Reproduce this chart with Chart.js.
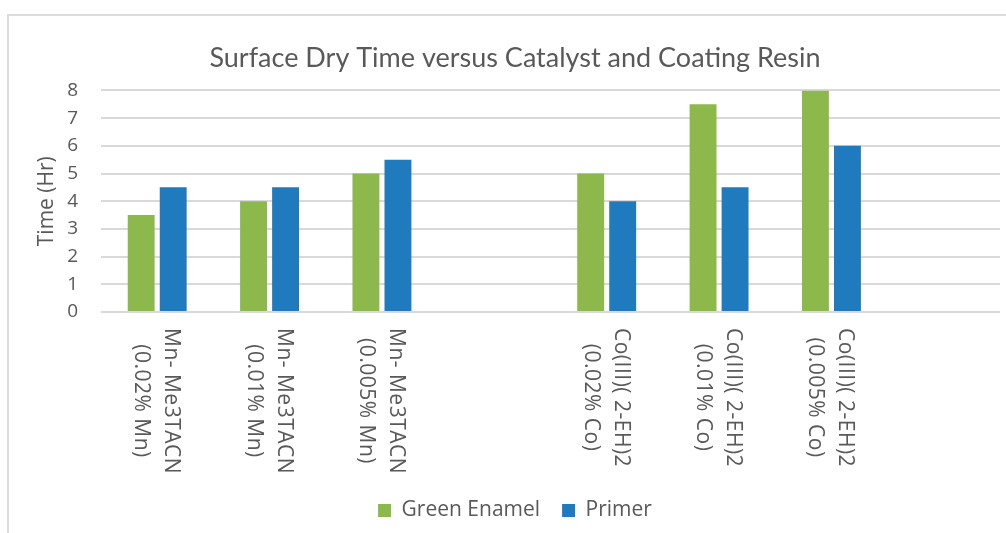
<!DOCTYPE html>
<html>
<head>
<meta charset="utf-8">
<script src="https://cdn.jsdelivr.net/npm/chart.js@4"></script>
<style>
  html, body { margin: 0; padding: 0; background: #fff; overflow: hidden; }
  #wrap { position: relative; width: 1006px; height: 533px; }
  #frame { position: absolute; left: 7px; top: 14px; width: 1010px; height: 540px;
           border: 2px solid #dcdcdc; box-sizing: border-box; }
  canvas { position: absolute; left: 0; top: 0; }
</style>
</head>
<body>
<div id="wrap">
  <div id="frame"></div>
  <canvas id="dryChart" width="1006" height="533"></canvas>
</div>
<script>
// categories (two lines each, empty slots are the gaps in the original)
const categories = [
    ['Mn- Me3TACN', '(0.02% Mn)'],
    ['Mn- Me3TACN', '(0.01% Mn)'],
    ['Mn- Me3TACN', '(0.005% Mn)'],
    '',
    ['Co(III)( 2-EH)2', '(0.02% Co)'],
    ['Co(III)( 2-EH)2', '(0.01% Co)'],
    ['Co(III)( 2-EH)2', '(0.005% Co)'],
    ''
];
const greenEnamel = [3.5, 4, 5, null, 5, 7.5, 8, null];
const primer = [4.5, 4.5, 5.5, null, 4, 4.5, 6, null];
const yTicks = [0, 1, 2, 3, 4, 5, 6, 7, 8];

const textColor = '#595959';
const gridColor = '#d9d9d9';

// x labels are rotated clockwise (top to bottom), so draw them by hand
const rotatedLabels = {
    id: 'rotatedLabels',
    afterDraw(chart) {
        const { ctx, scales: { x } } = chart;
        const top = 328;
        const lineGap = 30;
        ctx.save();
        ctx.font = '21px "Open Sans"';
        ctx.letterSpacing = '0.5px';
        ctx.fillStyle = textColor;
        ctx.textAlign = 'center';
        ctx.textBaseline = 'middle';
        categories.forEach((lab, i) => {
            if (!lab) return;
            const lines = Array.isArray(lab) ? lab : [lab];
            const blockLen = Math.max(...lines.map(l => ctx.measureText(l).width));
            const cx = x.getPixelForValue(i);
            ctx.save();
            ctx.translate(cx, top);
            ctx.rotate(Math.PI / 2);
            lines.forEach((l, j) => {
                // first line sits on the right after rotation
                const off = -lineGap / 2 + j * lineGap + 1;
                ctx.fillText(l, blockLen / 2, off);
            });
            ctx.restore();
        });
        ctx.restore();
    }
};

const config = {
    type: 'bar',
    data: {
        labels: categories,
        datasets: [
            {
                label: 'Green Enamel',
                data: greenEnamel,
                backgroundColor: '#8cb84c',
                categoryPercentage: 0.57,
                barPercentage: 0.84
            },
            {
                label: 'Primer',
                data: primer,
                backgroundColor: '#1f7bbd',
                categoryPercentage: 0.57,
                barPercentage: 0.84
            }
        ]
    },
    options: {
        responsive: false,
        animation: false,
        layout: {
            padding: { left: 30, right: 6, top: 0, bottom: 2 }
        },
        plugins: {
            title: {
                display: true,
                text: 'Surface Dry Time versus Catalyst and Coating Resin',
                color: textColor,
                font: { family: 'Lato', size: 27, weight: 'normal' },
                padding: { top: 42, bottom: 16 }
            },
            legend: {
                position: 'bottom',
                labels: {
                    color: textColor,
                    font: { family: 'Open Sans', size: 21 },
                    boxWidth: 13,
                    boxHeight: 13,
                    padding: 22
                }
            },
            tooltip: { enabled: false }
        },
        scales: {
            x: {
                grid: { display: false },
                border: { display: false },
                ticks: { display: false },
                afterFit(scale) { scale.height = 166; }
            },
            y: {
                min: 0,
                max: 8,
                afterBuildTicks(scale) {
                    scale.ticks = yTicks.map(v => ({ value: v }));
                },
                afterFit(scale) { scale.width = 71; },
                grid: { color: gridColor, lineWidth: 2, drawTicks: false },
                border: { display: false },
                ticks: {
                    color: textColor,
                    font: { family: 'Open Sans', size: 19 },
                    padding: 23
                },
                title: {
                    display: true,
                    text: 'Time (Hr)',
                    color: textColor,
                    font: { family: 'Open Sans', size: 21 },
                    padding: { top: 4, bottom: 0 }
                }
            }
        }
    },
    plugins: [rotatedLabels]
};

const dryChart = new Chart(document.getElementById('dryChart'), config);
</script>
</body>
</html>
